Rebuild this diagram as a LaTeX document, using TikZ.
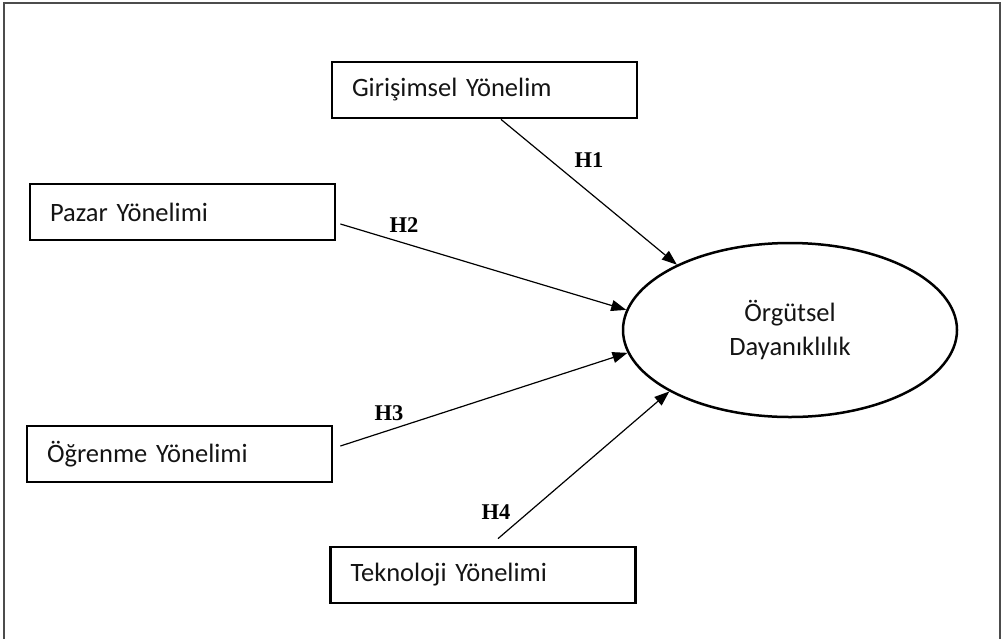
\documentclass[tikz,border=0pt]{standalone}
\usepackage{fontspec}
\setmainfont{Carlito}[WordSpace=0.8]
\newfontfamily\hypfont{Liberation Serif}
\usetikzlibrary{shapes.geometric,arrows.meta,calc}
\begin{document}
\begin{tikzpicture}[x=1pt,y=-1pt,
  box/.style={draw,line width=2.8pt,minimum width=305pt,minimum height=56pt,
    text width=265pt,align=left,inner xsep=20pt,inner ysep=0pt,
    font=\fontsize{26.5}{30}\selectfont,text=black!92},
  hyp/.style={font=\hypfont\bfseries\fontsize{22.5}{26}\selectfont,inner sep=0pt},
  arr/.style={line width=1.2pt,-{Triangle[length=15pt,width=11pt]}},
  latent/.style={draw,ellipse,line width=2.5pt,minimum width=334pt,minimum height=174pt,
    inner sep=0pt,align=center,font=\fontsize{26.5}{34}\selectfont,text=black!92}
]
\useasboundingbox (0,0) rectangle (1006,638);
\draw[line width=1.5pt,draw=black!70] (4,3) rectangle (1000,660);

\node[box] (gy) at (484.5,90) {Girişimsel Yönelim};
\node[box] (pz) at (182.5,212) {Pazar Yönelimi};
\node[box] (og) at (179.5,454) {Öğrenme Yönelimi};
\node[box] (tk) at (483,575) {Teknoloji Yönelimi};
\node[latent] (od) at (790,330) {Örgütsel\\Dayanıklılık};

\coordinate (s1) at ($(gy.south)+(16.5,0)$);
\coordinate (s2) at ($(pz.east)+(4,12)$);
\coordinate (s3) at ($(og.east)+(7,-8)$);
\coordinate (s4) at ($(tk.north)+(15,-7)$);

\draw[arr] (s1) -- (od.150.6);
\draw[arr] (s2) -- (od.173);
\draw[arr] (s3) -- (od.188.5);
\draw[arr] (s4) -- (od.207.6);

\node[hyp] (h1) at (589,160) {H1};
\node[hyp] (h2) at (404,225.5) {H2};
\node[hyp] (h3) at (389,413) {H3};
\node[hyp] (h4) at (496,512) {H4};
\end{tikzpicture}
\end{document}
